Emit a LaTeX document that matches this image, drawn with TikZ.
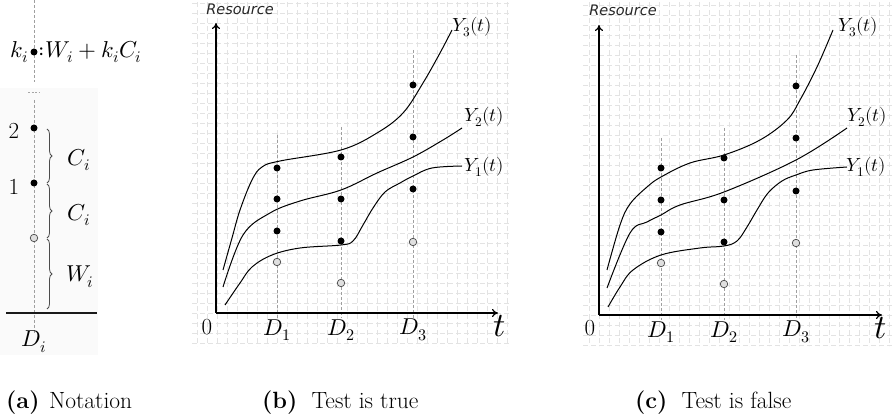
\documentclass[tikz,border=0pt]{standalone}
\usepackage{fontspec}
\usepackage{unicode-math}
\setmathfont{Latin Modern Math}
\newfontfamily\resfont{DejaVu Sans}
\usetikzlibrary{positioning, arrows.meta, decorations.pathreplacing}

\tikzset{
  bdot/.style={circle, fill=black, inner sep=0pt, minimum size=7pt},
  odot/.style={circle, fill=gray!25, draw=gray!55!black, line width=0.7pt, inner sep=0pt, minimum size=7.5pt},
  guide/.style={gray!75, dash pattern=on 3pt off 2pt, line width=0.6pt},
  gridline/.style={gray!22, dash pattern=on 5pt off 3pt, line width=0.7pt},
  curve/.style={line width=1pt},
  axis/.style={line width=1.2pt, -{To[length=6pt, width=8pt]}},
  brace/.style={decorate, decoration={brace, amplitude=5pt}, gray!60!black, line width=0.8pt},
  big/.style={font=\fontsize{23}{27}\selectfont, inner sep=1pt},
  ylab/.style={font=\fontsize{19}{22}\selectfont, inner sep=0pt},
  reslab/.style={font=\resfont\itshape\fontsize{14.5}{16}\selectfont, text=gray!30!black, inner sep=0pt},
  caption/.style={font=\fontsize{23.5}{27}\selectfont, anchor=west, inner sep=0pt}
}

\begin{document}
\begin{tikzpicture}[x=1pt, y=-1pt]
  \useasboundingbox (0,0) rectangle (892,419);

  % (a) notation
  \fill[gray!4] (0,88) rectangle (98,355);
  \draw[guide] (34,0) -- (34,82);
  \draw[gray!70, dash pattern=on 2pt off 1.5pt, line width=0.7pt] (28,92) -- (40,92);
  \draw[guide] (34,100) -- (34,333);
  \draw[line width=1.2pt, gray!20!black] (6,313) -- (97,313);

  \node[bdot] (kdot) at (34,52) {};
  \node[big, left=1pt of kdot] (klab) {$k_i$};
  \node[big, right=0pt of kdot] (kform) {${:}W_i+k_iC_i$};
  \node[bdot] (dot2) at (34,128) {};
  \node[bdot] (dot1) at (34,183) {};
  \node[odot] (dot0) at (34,238) {};
  \node[big] (lab2) at (14,131) {2};
  \node[big] (lab1) at (14,187) {1};

  \draw[brace] (47,129) -- (47,183);
  \draw[brace] (47,184) -- (47,238);
  \draw[brace] (47,239) -- (47,309);
  \node[big] (ca) at (79,160) {$C_i$};
  \node[big] (cb) at (79,215) {$C_i$};
  \node[big] (wa) at (80,277) {$W_i$};
  \node[big] (di) at (34,342) {$D_i$};

  % (b) test is true
  \foreach \gx in {197,207,...,507}
    \draw[gridline] (\gx,2) -- (\gx,346);
  \foreach \gy in {3,13,...,343}
    \draw[gridline] (192,\gy) -- (510,\gy);

  \coordinate (ob) at (216,313);
  \coordinate (yb) at (216,23);
  \coordinate (xb) at (498,313);
  \draw[guide] (277,135) -- (277,318);
  \draw[guide] (341,127) -- (341,318);
  \draw[guide] (413,50) -- (413,318);
  \draw[axis] (ob) -- (yb);
  \draw[axis] (ob) -- (xb);

  \draw[curve] plot[smooth, tension=0.6] coordinates {(223,270) (232,238) (240,210) (252,180) (262,167) (280,161) (341,150) (377,133) (403,113) (423,83) (440,53) (452,30)};
  \draw[curve] plot[smooth, tension=0.6] coordinates {(223,287) (243,235) (270,213) (300,201) (341,190) (377,173) (413,157) (443,140) (462,128)};
  \draw[curve] plot[smooth, tension=0.6] coordinates {(225,305) (240,283) (252,267) (272,255) (300,248) (341,245) (353,241) (363,225) (373,208) (385,192) (400,183) (413,176) (432,168) (462,166)};

  \node[bdot] (b11) at (277,168) {};
  \node[bdot] (b12) at (277,199) {};
  \node[bdot] (b13) at (277,231) {};
  \node[odot] (b10) at (277,262) {};
  \node[bdot] (b21) at (341,157) {};
  \node[bdot] (b22) at (341,199) {};
  \node[bdot] (b23) at (341,241) {};
  \node[odot] (b20) at (341,283) {};
  \node[bdot] (b31) at (413,85) {};
  \node[bdot] (b32) at (413,137) {};
  \node[bdot] (b33) at (413,189) {};
  \node[odot] (b30) at (413,242) {};

  \node[reslab] (resb) at (240,9) {Resource};
  \node[big] (zb) at (207,327) {0};
  \node[big] (d1b) at (277,330) {$D_1$};
  \node[big] (d2b) at (341,330) {$D_2$};
  \node[big] (d3b) at (413,330) {$D_3$};
  \node[font=\fontsize{34}{38}\selectfont, inner sep=0pt] (tb) at (500,326) {$t$};
  \node[ylab] (y3b) at (472,27) {$Y_3(t)$};
  \node[ylab] (y2b) at (484,117) {$Y_2(t)$};
  \node[ylab] (y1b) at (484,167) {$Y_1(t)$};

  % (c) test is false
  \foreach \gx in {589,599,...,889}
    \draw[gridline] (\gx,2) -- (\gx,346);
  \foreach \gy in {5,15,...,345}
    \draw[gridline] (583,\gy) -- (892,\gy);

  \coordinate (oc) at (599,315);
  \coordinate (yc) at (599,25);
  \coordinate (xc) at (882,315);
  \draw[guide] (661,138) -- (661,320);
  \draw[guide] (724,128) -- (724,320);
  \draw[guide] (796,55) -- (796,320);
  \draw[axis] (oc) -- (yc);
  \draw[axis] (oc) -- (xc);

  \draw[curve] plot[smooth, tension=0.6] coordinates {(607,270) (620,225) (630,204) (647,187) (661,177) (690,163) (724,155) (760,140) (787,120) (800,100) (817,67) (833,30)};
  \draw[curve] plot[smooth, tension=0.6] coordinates {(607,288) (630,233) (647,222) (661,215) (680,205) (724,192) (796,160) (847,128)};
  \draw[curve] plot[smooth, tension=0.6] coordinates {(608,307) (620,287) (633,270) (661,255) (700,248) (724,246) (737,241) (747,227) (757,210) (768,193) (782,181) (796,175) (813,170) (847,167)};

  \node[bdot] (c11) at (661,168) {};
  \node[bdot] (c12) at (661,200) {};
  \node[bdot] (c13) at (661,232) {};
  \node[odot] (c10) at (661,263) {};
  \node[bdot] (c21) at (724,158) {};
  \node[bdot] (c22) at (724,200) {};
  \node[bdot] (c23) at (724,242) {};
  \node[odot] (c20) at (724,284) {};
  \node[bdot] (c31) at (796,86) {};
  \node[bdot] (c32) at (796,138) {};
  \node[bdot] (c33) at (796,191) {};
  \node[odot] (c30) at (796,243) {};

  \node[reslab] (resc) at (623,10) {Resource};
  \node[big] (zc) at (590,328) {0};
  \node[big] (d1c) at (661,332) {$D_1$};
  \node[big] (d2c) at (724,332) {$D_2$};
  \node[big] (d3c) at (796,332) {$D_3$};
  \node[font=\fontsize{34}{38}\selectfont, inner sep=0pt] (tc) at (881,328) {$t$};
  \node[ylab] (y3c) at (858,27) {$Y_3(t)$};
  \node[ylab] (y2c) at (867,117) {$Y_2(t)$};
  \node[ylab] (y1c) at (866,167) {$Y_1(t)$};

  % captions
  \node[caption] (capa) at (6,403) {\textbf{(a)}\hspace{0.4em}Notation};
  \node[caption] (capb) at (262,403) {\textbf{(b)}\hspace{0.6em}Test is true};
  \node[caption] (capc) at (635,403) {\textbf{(c)}\hspace{0.6em}Test is false};
\end{tikzpicture}
\end{document}
